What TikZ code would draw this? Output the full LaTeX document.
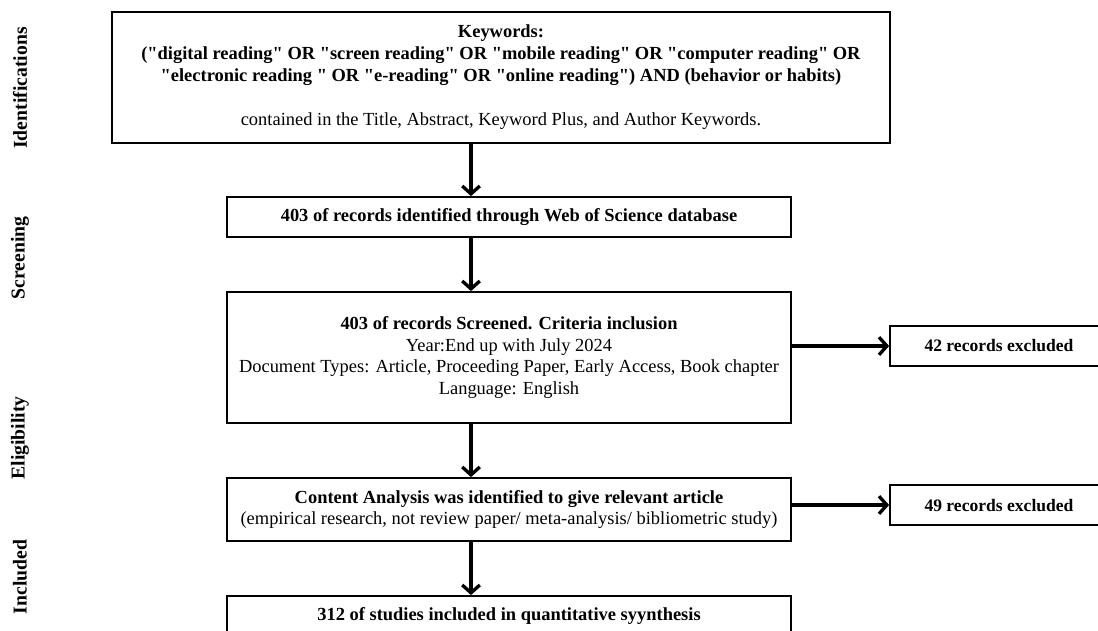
\documentclass[tikz,border=0pt]{standalone}
\usepackage{fontspec}
\setmainfont{Liberation Serif}
\usetikzlibrary{arrows.meta}

\newcommand{\qt}{\textquotedbl}

\tikzset{
	box/.style={draw, line width=1pt, align=center, inner sep=2pt,
		minimum width=11.28cm, minimum height=0.8cm},
	exbox/.style={box, minimum width=4.36cm, font=\bfseries},
	phase/.style={rotate=90, font=\fontsize{11.2}{13}\selectfont\bfseries},
	arr/.style={-{Straight Barb[length=4.5pt, width=10pt]}, line width=1.9pt}
}

\begin{document}
\begin{tikzpicture}[x=0.02cm, y=-0.02cm, font=\fontsize{10.5}{12.5}\selectfont]
	\clip (0,0) rectangle (1098,630);
	% Phases on the left:
	\node[phase] (pid) at (20, 88){Identifications};
	\node[phase] (psc) at (20, 258){Screening};
	\node[phase] (pel) at (20, 438){Eligibility};
	\node[phase] (pin) at (20, 577){Included};
	% Boxes:
	\node[box, minimum width=15.56cm, minimum height=2.62cm] (kw) at (501, 77.5){\textbf{Keywords:}\\
		\textbf{(\qt digital reading\qt{} OR \qt screen reading\qt{} OR \qt mobile reading\qt{} OR \qt computer reading\qt{} OR}\\
		\textbf{\qt electronic reading \qt{} OR \qt e-reading\qt{} OR \qt online reading\qt) AND (behavior or habits)}\\[12.5pt]
		contained in the Title, Abstract, Keyword Plus, and Author Keywords.};
	\node[box] (wos) at (509, 217){\textbf{403 of records identified through Web of Science database}};
	\node[box, minimum height=2.62cm] (scr) at (509, 357.5){\textbf{403 of records Screened. Criteria inclusion}\\
		Year:End up with July 2024\\
		Document Types: Article, Proceeding Paper, Early Access, Book chapter\\
		Language: English};
	\node[box, minimum height=1.26cm] (ca) at (509, 509.5){\textbf{Content Analysis was identified to give relevant article}\\
		(empirical research, not review paper/ meta-analysis/ bibliometric study)};
	\node[box] (inc) at (509, 616){\textbf{312 of studies included in quantitative syynthesis}};
	\node[exbox] (ex1) at (999, 346){42 records excluded};
	\node[exbox] (ex2) at (999, 505){49 records excluded};
	% Arrows:
	\coordinate (ax) at (471, 0);
	\draw[arr] (kw.south -| ax) -- (wos.north -| ax);
	\draw[arr] (wos.south -| ax) -- (scr.north -| ax);
	\draw[arr] (scr.south -| ax) -- (ca.north -| ax);
	\draw[arr] (ca.south -| ax) -- (inc.north -| ax);
	\draw[arr] (scr.east |- ex1.west) -- (ex1.west);
	\draw[arr] (ca.east |- ex2.west) -- (ex2.west);
\end{tikzpicture}
\end{document}
